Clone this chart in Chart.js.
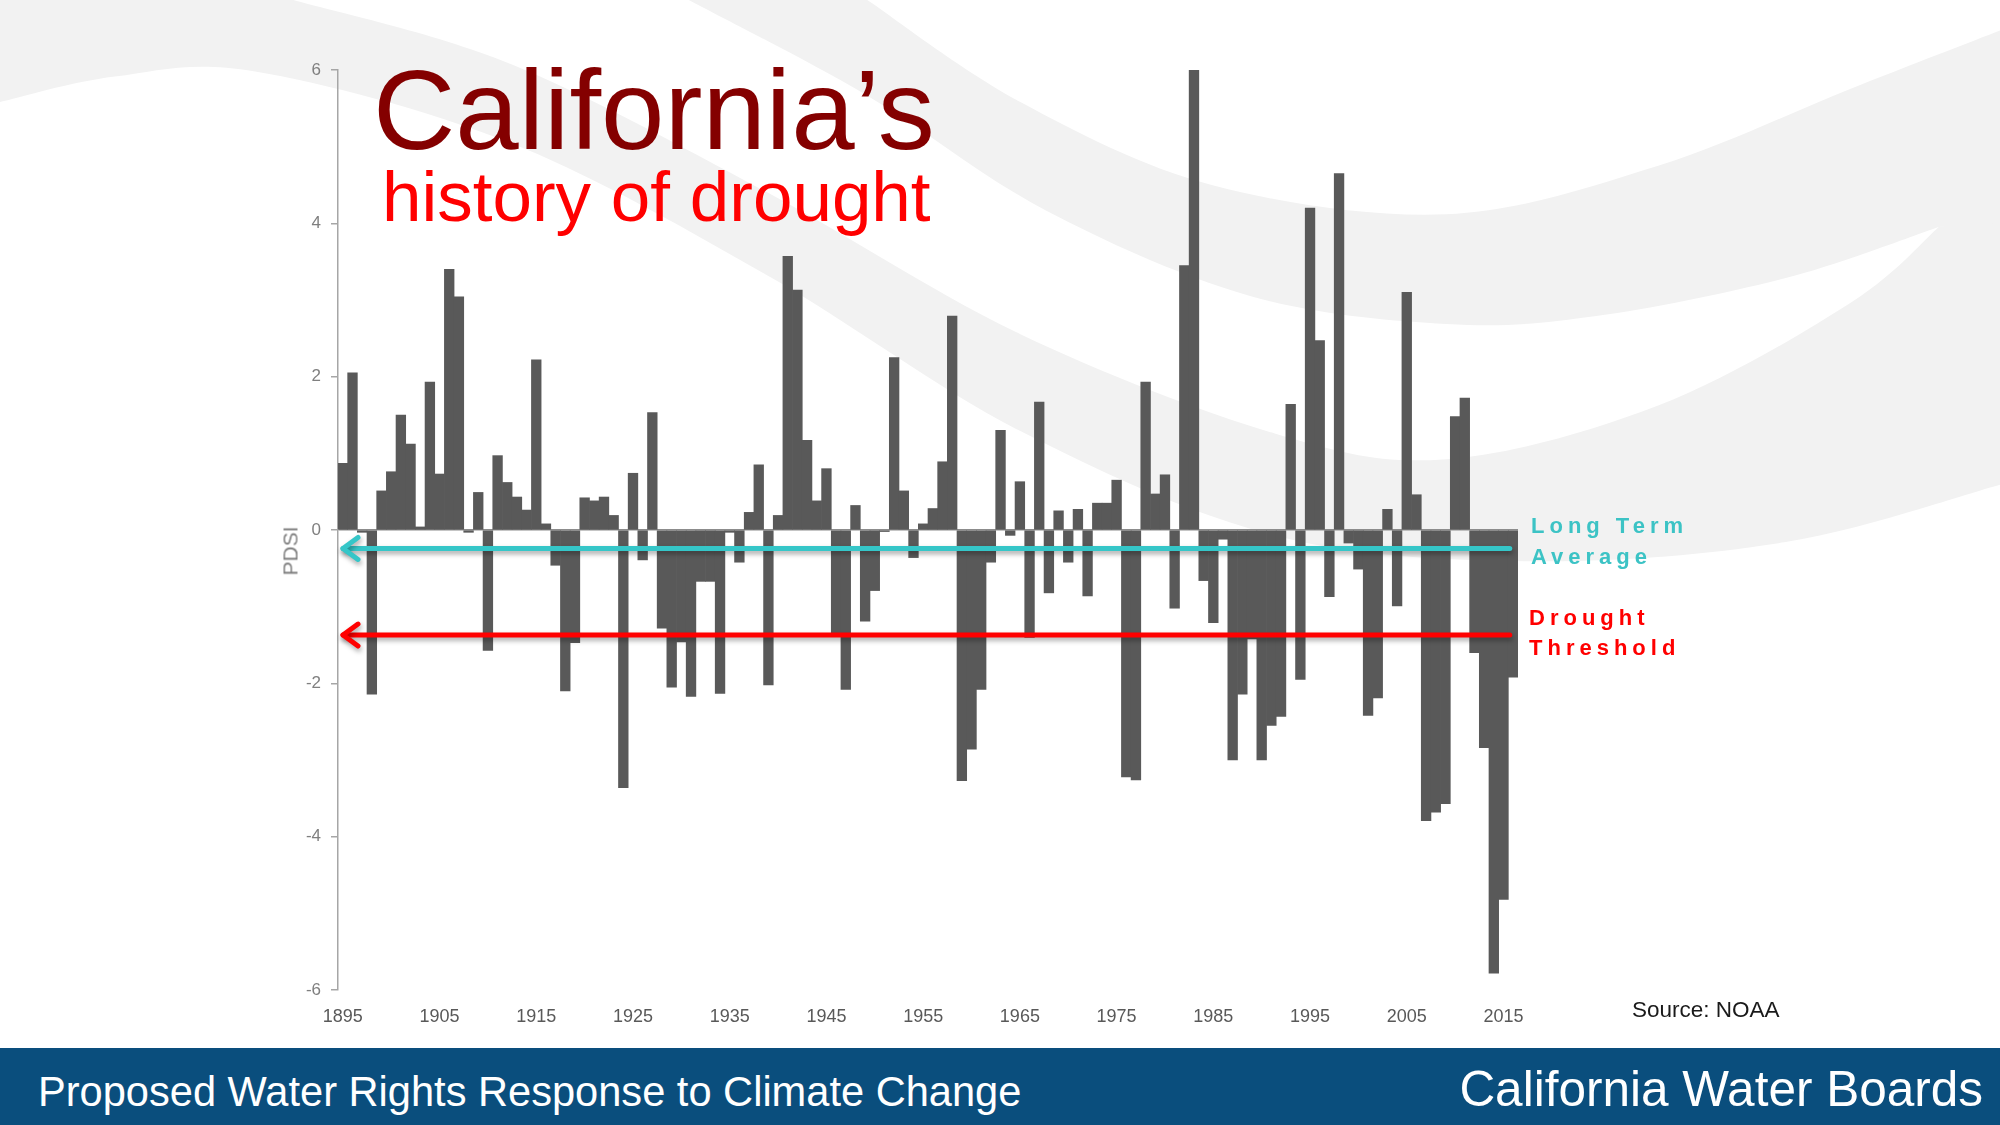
<!DOCTYPE html>
<html>
<head>
<meta charset="utf-8">
<script src="https://cdn.jsdelivr.net/npm/chart.js@4.4.1/dist/chart.umd.min.js"></script>
<style>
  html, body { margin: 0; padding: 0; background: #ffffff; }
  #stage { position: relative; width: 2000px; height: 1125px; overflow: hidden; background: #ffffff; font-family: "Liberation Sans", Arial, sans-serif; }
  #bg { position: absolute; left: 0; top: 0; width: 2000px; height: 1125px; }
  #wrap { position: absolute; left: 0; top: 0; width: 2000px; height: 1125px; }
  .t { position: absolute; white-space: nowrap; line-height: 1; }
  #title { left: 373px; top: 53px; font-size: 114px; color: #840000; }
  #subtitle { left: 382px; top: 161px; font-size: 71px; color: #ff0000; }
  .lab { font-size: 22px; font-weight: bold; letter-spacing: 5px; }
  #lt1 { left: 1531px; top: 515px; color: #3cc3c5; }
  #lt2 { left: 1531px; top: 546px; color: #3cc3c5; }
  #dt1 { left: 1529px; top: 607px; color: #ff0000; }
  #dt2 { left: 1529px; top: 637px; color: #ff0000; }
  #source { left: 1632px; top: 999px; font-size: 22.5px; color: #1a1a1a; }
  #pdsi { left: 290px; top: 551px; font-size: 21px; color: #7f7f7f; transform: translate(-50%, -50%) rotate(-90deg); }
  #footer { position: absolute; left: 0; top: 1048px; width: 2000px; height: 77px; background: #0a4e7d; }
  #f1 { left: 38px; top: 1071px; font-size: 41.6px; color: #ffffff; }
  #f2 { right: 17px; top: 1064px; font-size: 49.5px; color: #ffffff; }
</style>
</head>
<body>
<div id="stage">
  <svg id="bg" viewBox="0 0 1568 882" preserveAspectRatio="none">
    <path id="g1" fill="#f2f2f2" d=""/>
    <path id="g2" fill="#f2f2f2" d=""/>
    <path id="g3" fill="#f2f2f2" d=""/>
  </svg>
  <div id="wrap"><canvas id="c"></canvas></div>
  <div class="t" id="title">California’s</div>
  <div class="t" id="subtitle">history of drought</div>
  <div class="t lab" id="lt1">Long Term</div>
  <div class="t lab" id="lt2">Average</div>
  <div class="t lab" id="dt1">Drought</div>
  <div class="t lab" id="dt2">Threshold</div>
  <div class="t" id="source">Source: NOAA</div>
  <div class="t" id="pdsi">PDSI</div>
  <div id="footer"></div>
  <div class="t" id="f1">Proposed Water Rights Response to Climate Change</div>
  <div class="t" id="f2">California Water Boards</div>
</div>
<script>
// ---- data ----
const FIRST_YEAR = 1895;
const years = [];
for (let y = 1895; y <= 2016; y++) years.push(String(y));

const pdsi = [
  0.87, 2.05, -0.03, -2.14, 0.51, 0.76, 1.50, 1.12, 0.04, 1.93,   // 1895-1904
  0.73, 3.40, 3.04, -0.03, 0.49, -1.57, 0.97, 0.62, 0.43, 0.26,   // 1905-1914
  2.22, 0.08, -0.46, -2.10, -1.47, 0.42, 0.38, 0.43, 0.19, -3.36, // 1915-1924
  0.74, -0.39, 1.53, -1.28, -2.05, -1.46, -2.17, -0.67, -0.67, -2.13, // 1925-1934
  -0.03, -0.42, 0.23, 0.85, -2.02, 0.19, 3.57, 3.13, 1.17, 0.38,  // 1935-1944
  0.80, -1.35, -2.08, 0.32, -1.19, -0.79, -0.02, 2.25, 0.51, -0.36, // 1945-1954
  0.08, 0.28, 0.89, 2.79, -3.27, -2.86, -2.08, -0.42, 1.30, -0.07, // 1955-1964
  0.63, -1.40, 1.67, -0.82, 0.25, -0.42, 0.27, -0.86, 0.35, 0.35, // 1965-1974
  0.65, -3.22, -3.26, 1.93, 0.47, 0.72, -1.02, 3.45, 6.00, -0.66, // 1975-1984
  -1.21, -0.12, -3.00, -2.14, -1.42, -3.00, -2.55, -2.43, 1.64, -1.95, // 1985-1994
  4.20, 2.47, -0.87, 4.65, -0.17, -0.51, -2.42, -2.19, 0.27, -0.99, // 1995-2004
  3.10, 0.46, -3.79, -3.68, -3.57, 1.48, 1.72, -1.60, -2.84, -5.78, // 2005-2014
  -4.82, -1.92                                                      // 2015-2016
];

const yTicks = [-6, -4, -2, 0, 2, 4, 6];
const LONG_TERM_AVERAGE = -0.24;
const DROUGHT_THRESHOLD = -1.37;

// ---- decorative background swooshes (slide artwork, not data) ----
function smooth(pts) {
  let d = 'M' + pts[0][0] + ',' + pts[0][1];
  for (let i = 0; i < pts.length - 1; i++) {
    const p0 = pts[i - 1] || pts[i], p1 = pts[i], p2 = pts[i + 1], p3 = pts[i + 2] || p2;
    const c1 = [p1[0] + (p2[0] - p0[0]) / 6, p1[1] + (p2[1] - p0[1]) / 6];
    const c2 = [p2[0] - (p3[0] - p1[0]) / 6, p2[1] - (p3[1] - p1[1]) / 6];
    d += ' C' + c1[0] + ',' + c1[1] + ' ' + c2[0] + ',' + c2[1] + ' ' + p2[0] + ',' + p2[1];
  }
  return d;
}
// band 1: from top-left sweeping down to the right
const b1Upper = [[230,0],[400,50],[600,150],[800,262],[1000,340],[1134,360],[1300,318],[1450,238],[1520,178]];
const b1Lower = [[1568,380],[1400,425],[1200,440],[1000,420],[800,338],[600,215],[400,112],[200,56],[90,60],[0,80]];
document.getElementById('g1').setAttribute('d',
  'M0,0 L230,0 ' + smooth(b1Upper).replace(/^M[^C]*/, '') + ' L1568,170 L1568,380 ' +
  smooth(b1Lower).replace(/^M[^C]*/, '') + ' Z');
// band 2: from top middle sweeping down and back up to the right edge
const b2Upper = [[680,0],[800,80],[950,145],[1134,168],[1300,130],[1450,70],[1568,24]];
const b2Lower = [[1520,178],[1400,218],[1250,248],[1134,254],[980,232],[820,165],[680,75],[540,0]];
document.getElementById('g2').setAttribute('d',
  smooth(b2Upper) + ' L1568,175 L1520,178 ' + smooth(b2Lower).replace(/^M[^C]*/, '') + ' Z');

// ---- reference arrows plugin ----
const arrowsPlugin = {
  id: 'refArrows',
  afterDatasetsDraw(chart) {
    const { ctx, scales } = chart;
    const xs = scales.x, ys = scales.y;
    const xLeft = ys.right + 3;
    const barW = xs.getPixelForValue(1) - xs.getPixelForValue(0);
    const xRight = xs.getPixelForValue(pdsi.length - 1) - barW * 0.35;
    const lines = [
      { v: LONG_TERM_AVERAGE, color: '#35c6c8' },
      { v: DROUGHT_THRESHOLD, color: '#ff0000' }
    ];
    lines.forEach(l => {
      const y = ys.getPixelForValue(l.v);
      ctx.save();
      ctx.shadowColor = 'rgba(0,0,0,0.35)';
      ctx.shadowBlur = 5;
      ctx.shadowOffsetX = 1;
      ctx.shadowOffsetY = 3;
      ctx.strokeStyle = l.color;
      ctx.lineWidth = 5;
      ctx.lineCap = 'round';
      ctx.lineJoin = 'round';
      ctx.beginPath();
      ctx.moveTo(xRight, y);
      ctx.lineTo(xLeft + 2, y);
      ctx.stroke();
      ctx.beginPath();
      ctx.moveTo(xLeft + 17, y - 11);
      ctx.lineTo(xLeft + 2, y);
      ctx.lineTo(xLeft + 17, y + 11);
      ctx.stroke();
      ctx.restore();
    });
  }
};

const ctx = document.getElementById('c').getContext('2d');
new Chart(ctx, {
  type: 'bar',
  data: {
    labels: years,
    datasets: [{
      data: pdsi,
      backgroundColor: '#595959',
      borderWidth: 0,
      barPercentage: 1.0,
      categoryPercentage: 1.0
    }]
  },
  options: {
    responsive: true,
    maintainAspectRatio: false,
    devicePixelRatio: 1,
    animation: false,
    layout: { padding: { left: 0, right: 482, top: 70, bottom: 0 } },
    plugins: { legend: { display: false }, tooltip: { enabled: false } },
    scales: {
      x: {
        type: 'category',
        offset: true,
        grid: { display: false, drawTicks: false },
        border: { display: false },
        ticks: {
          autoSkip: false,
          maxRotation: 0,
          minRotation: 0,
          padding: 16,
          color: '#595959',
          font: { family: '"Liberation Sans", Arial, sans-serif', size: 18 },
          callback: function(val, idx) {
            const yr = FIRST_YEAR + idx;
            return (yr - FIRST_YEAR) % 10 === 0 ? String(yr) : '';
          }
        },
        afterFit: function(scale) { scale.height = 135; }
      },
      y: {
        min: -6,
        max: 6,
        afterBuildTicks: function(scale) { scale.ticks = yTicks.map(v => ({ value: v })); },
        grid: {
          drawOnChartArea: true,
          drawTicks: true,
          tickLength: 7,
          tickColor: '#a6a6a6',
          lineWidth: 1.5,
          color: function(c) { return (c.tick && c.tick.value === 0) ? '#8c8c8c' : 'rgba(0,0,0,0)'; }
        },
        border: { display: true, color: '#a6a6a6', width: 1.5 },
        ticks: {
          padding: 10,
          color: '#7f7f7f',
          font: { family: '"Liberation Sans Narrow", "Liberation Sans", Arial, sans-serif', size: 17 }
        },
        afterFit: function(scale) { scale.width = 338; }
      }
    }
  },
  plugins: [arrowsPlugin]
});
</script>
</body>
</html>
